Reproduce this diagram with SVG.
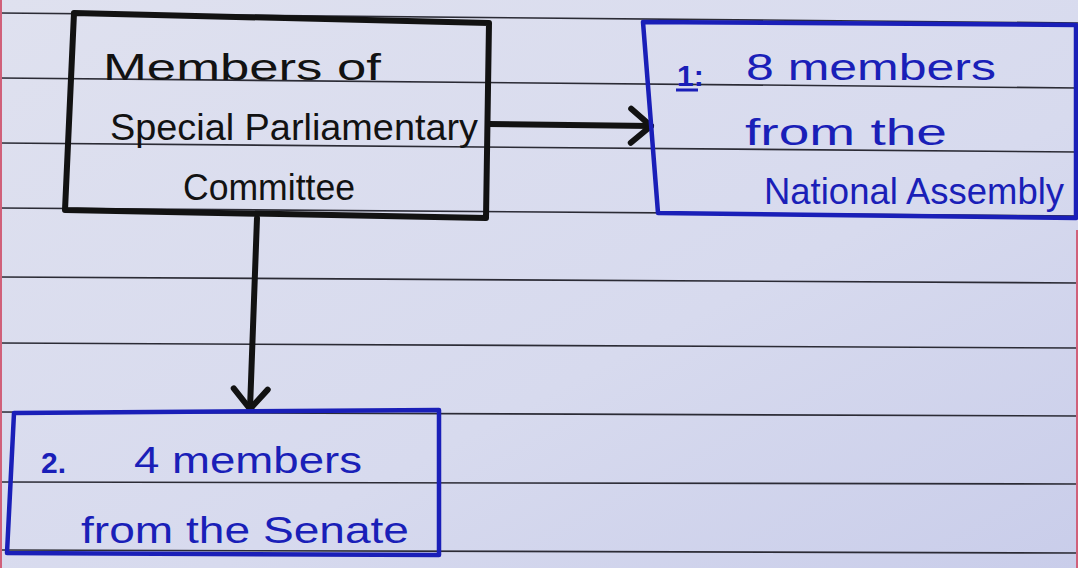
<svg xmlns="http://www.w3.org/2000/svg" width="1078" height="568" viewBox="0 0 1078 568">
  <defs>
    <style>
      .rule { stroke: #2b2b35; stroke-width: 1.6; fill: none; }
      .margin { stroke: #d0607a; stroke-width: 2; fill: none; }
      .boxk { fill: none; stroke: #121212; stroke-width: 6; stroke-linejoin: round; }
      .boxb { fill: none; stroke: #1a1fb8; stroke-width: 4.5; stroke-linejoin: round; }
      .tk { font-family: "Liberation Sans", "DejaVu Sans", sans-serif; fill: #121212; font-size: 36px; }
      .tb { font-family: "Liberation Sans", "DejaVu Sans", sans-serif; fill: #1a1fb8; font-size: 36px; }
      .num { font-size: 30px; font-weight: bold; }
      .conn { stroke: #121212; stroke-width: 6; fill: none; stroke-linecap: round; }
    </style>
    <linearGradient id="pg" x1="0" y1="0" x2="1" y2="1">
      <stop offset="0" stop-color="#dfe1ef"/>
      <stop offset="0.6" stop-color="#d7daee"/>
      <stop offset="1" stop-color="#c9cdea"/>
    </linearGradient>
    <marker id="chev" markerUnits="userSpaceOnUse" markerWidth="40" markerHeight="50" viewBox="0 0 40 50" refX="28" refY="25" orient="auto" overflow="visible">
      <path d="M8,8 L28,25 L8,42" fill="none" stroke="#121212" stroke-width="6" stroke-linecap="round" stroke-linejoin="round"/>
    </marker>
  </defs>

  <rect x="0" y="0" width="1078" height="568" fill="url(#pg)"/>

  <g id="paper-lines">
    <line class="rule" x1="0" y1="13" x2="1078" y2="23"/>
    <line class="rule" x1="0" y1="78" x2="1078" y2="88"/>
    <line class="rule" x1="0" y1="143" x2="1078" y2="152"/>
    <line class="rule" x1="0" y1="208" x2="1078" y2="216"/>
    <line class="rule" x1="0" y1="277" x2="1078" y2="283"/>
    <line class="rule" x1="0" y1="343" x2="1078" y2="348"/>
    <line class="rule" x1="0" y1="412" x2="1078" y2="416"/>
    <line class="rule" x1="0" y1="482" x2="1078" y2="484"/>
    <line class="rule" x1="0" y1="550" x2="1078" y2="553"/>
    <line class="margin" x1="1" y1="0" x2="1" y2="568"/>
    <line class="margin" x1="1077" y1="230" x2="1077" y2="568"/>
  </g>

  <g id="connectors">
    <path class="conn" d="M489,124 L651,126" marker-end="url(#chev)"/>
    <path class="conn" d="M257,218 L250,409" marker-end="url(#chev)"/>
  </g>

  <g id="node-committee">
    <polygon class="boxk" points="74,13 489,23 486,218 65,210"/>
    <text class="tk" x="103" y="80" textLength="278" lengthAdjust="spacingAndGlyphs">Members of</text>
    <text class="tk" x="110" y="140" textLength="368" lengthAdjust="spacingAndGlyphs">Special Parliamentary</text>
    <text class="tk" x="183" y="200" textLength="172" lengthAdjust="spacingAndGlyphs">Committee</text>
  </g>

  <g id="node-national-assembly">
    <polygon class="boxb" points="643,22 1076,25 1076,218 658,213"/>
    <text class="tb num" x="677" y="86">1:</text>
    <line x1="676" y1="90" x2="698" y2="90" stroke="#1a1fb8" stroke-width="3"/>
    <text class="tb" x="746" y="80" textLength="250" lengthAdjust="spacingAndGlyphs">8 members</text>
    <text class="tb" x="745" y="145" textLength="202" lengthAdjust="spacingAndGlyphs">from the</text>
    <text class="tb" x="764" y="204" textLength="300" lengthAdjust="spacingAndGlyphs">National Assembly</text>
  </g>

  <g id="node-senate">
    <polygon class="boxb" points="14,413 439,410 439,555 7,553"/>
    <text class="tb num" x="41" y="473">2.</text>
    <text class="tb" x="134" y="473" textLength="228" lengthAdjust="spacingAndGlyphs">4 members</text>
    <text class="tb" x="81" y="543" textLength="328" lengthAdjust="spacingAndGlyphs">from the Senate</text>
  </g>
</svg>
